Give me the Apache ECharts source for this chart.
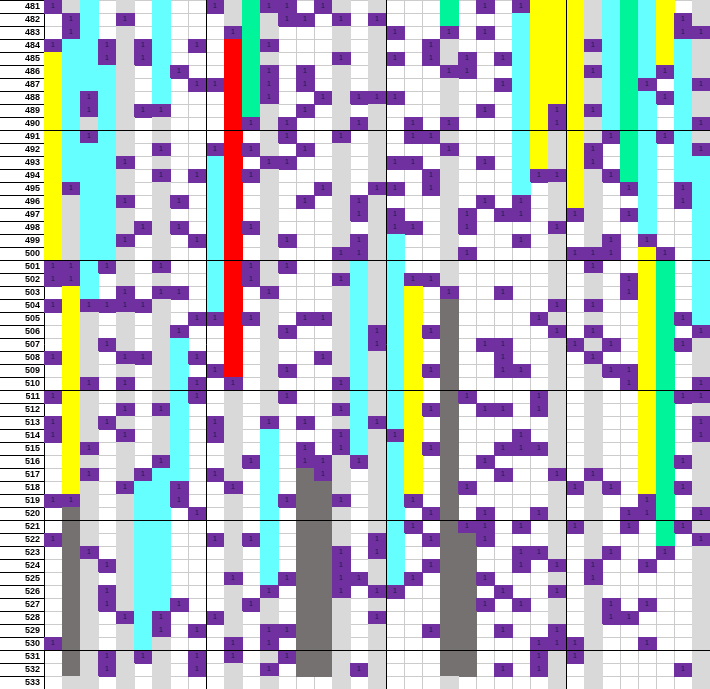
<!DOCTYPE html>
<html><head><meta charset="utf-8">
<script src="https://cdn.jsdelivr.net/npm/echarts@6/dist/echarts.min.js"></script>
<style>html,body{margin:0;padding:0;background:#fff}#chart{width:710px;height:689px}</style>
</head><body><div id="chart"></div>
<script>
const rowLabels = ['481','482','483','484','485','486','487','488','489','490','491','492','493','494','495','496','497','498','499','500','501','502','503','504','505','506','507','508','509','510','511','512','513','514','515','516','517','518','519','520','521','522','523','524','525','526','527','528','529','530','531','532','533'];
const columnIds = ['1','2','3','4','5','6','7','8','9','10','11','12','13','14','15','16','17','18','19','20','21','22','23','24','25','26','27','28','29','30','31','32','33','34','35','36','37'];
const grayColumns = [1,2,4,6,10,12,16,18,22,28,30,36];
const sectionColumnBreaks = [9,19,29];
const rowBreaks = [10,20,30,40,50];
// codes: . empty, P = "1" entry, C cyan, Y yellow, R red, G green, D dark grey
const cellRows = [
"P.C...C..|P.GPP.P...|...G.P.PYY|Y.CGCY..",
".PC.P.C..|..G.PP.P.P|...G...CYY|Y.CGCYP.",
".PC...C..|.PG.......|P..P.P.CYY|Y.CGCYPP",
"PCCP.PC.P|.RGP......|..P....CYY|YPCGCYC.",
"YCCP.PC..|.RG....P..|P.P.P.PCYY|Y.CGCYC.",
"YCCC..CP.|.RGP.P....|...PP..CYY|YPCGCPC.",
"YCCC..C.P|PRGP.P....|......PCYY|Y.CGP.CP",
"YCPC..C..|.RGP..P.PP|P......CYY|Y.CGCPC.",
"YCPC.PP..|.RG..P....|.....P.CYP|YPCGC.C.",
"YC.C.....|.RP.P...P.|.P.P...CYP|Y.CGC.CP",
"YCPC.....|.R..P..P..|.PP....CY.|Y.PGCPC.",
"YCCC..P..|PRP..P....|...P...CY.|YP.GC.CP",
"YCCCP....|CR.PP.....|PP...P.CY.|YP.GC.CC",
"YCCC..P.P|CRP.......|..P....CPP|Y.PGC.CC",
"YPCC.....|CR....P..P|P.P....C..|Y..PC.PC",
"Y.CCP..P.|CR...P..P.|.....P.P..|Y...C.PC",
"Y.CC.....|CR......P.|P...P.PP..|P..PC..C",
"Y.CC.P.P.|CRP.......|PP..P....P|....C..C",
"Y.CCP...P|CR..P...P.|C......P..|..P.P..C",
"Y.CC.....|CR.....PP.|C...P.....|PPP.YP.C",
"PPCP..P..|CRP.P...C.|C.........|.P..YG.C",
"PPC......|CRP....PC.|CPP.......|...PYG.C",
".YC.P.PP.|CR.P....C.|CY.P..P...|...PYG.C",
"PYPPPP...|CR......C.|CY.D.....P|.P..YG.C",
".Y......P|PRP..PP.C.|CY.D....P.|....YGPC",
".Y.....P.|.R..P...CP|CYPD.....P|.P..YG.P",
".Y.P...C.|.R......CP|CY.D.PP...|P.P.YGP.",
"PY..PP.CP|.R....P.C.|CY.D..P...|.P..YG..",
".Y.....C.|PR..P...C.|CYPD..PP..|..PPYG..",
".YP.P..CP|.P.....PC.|CY.D......|...PYG.P",
"PY.....CP|....P...C.|CY.DP...P.|....YGPP",
".Y..P.PC.|.......PC.|CYPD.PP.P.|....YG..",
"PY.P...C.|P..P.P..CP|CY.D......|....YG.P",
"PY..P..C.|P..C...PC.|PY.D...P..|....YG.P",
".YP....C.|...C.P.PC.|CYPD..PPP.|....YG..",
".Y....PC.|..PC.PP.P.|CY.D.P....|....YGP.",
".YP..PCC.|P..C.DP...|CY.D..P..P|.P..YG..",
".Y..PCCP.|.P.C.DD...|CY.DP.....|P.P.YGP.",
"PP...CCP.|...CPDDP..|CP.D......|....PG..",
".D...CC.P|...C.DD...|C.PD.P..P.|...PPG.P",
".D...CC..|...C.DD...|CP.DPP.P..|P..P.GP.",
"PD...CC..|P.PC.DD..P|C.PDDP....|.....G.P",
".DP..CC..|...C.DDP.P|C..DD..PP.|..P..P..",
".D.P.CC..|...C.DDP..|C.PDD..P.P|.P..P...",
".D...CC..|.P.CPDDPP.|CP.DDP....|.P......",
".D.P.CC..|...P.DDP.P|P..DD.P..P|........",
".D.P.CCP.|..P..DD...|...DDP.P..|..P.P...",
".D..PCP..|P....DD..P|...DD.....|..PP....",
".D...CP.P|...PPDD...|..PDD.P..P|........",
"PD...C...|.P.P.DD...|...DD...PP|P...P...",
".D.P.P..P|.P..PDD...|...DD...P.|P.......",
".D.P....P|...P.DD.P.|...DD.P.P.|......P.",
".........|..........|..........|........"
];
const palette = {P:'#7030A0', C:'#66FFFF', Y:'#FFFF00', R:'#FF0000', G:'#00F59B', D:'#767171', L:'#D9D9D9'};

const cells = [];
cellRows.forEach(function (s, r) {
  const codes = s.replace(/\|/g, '');
  for (let c = 0; c < codes.length; c++) {
    let k = codes[c];
    if (k === '.') {
      if (grayColumns.indexOf(c) >= 0) k = 'L'; else continue;
    }
    cells.push([c, r, k]);
  }
});

function cellBox(api, c, r) {
  const p = api.coord([c, r]);
  const s = api.size([1, 1]);
  return {x: Math.round(p[0] - s[0] / 2), y: Math.round(p[1] - s[1] / 2), w: Math.round(s[0]), h: Math.round(s[1])};
}

function renderCell(params, api) {
  const item = cells[params.dataIndex];
  const b = cellBox(api, item[0], item[1]);
  const rect = {type: 'rect', shape: {x: b.x, y: b.y, width: b.w + 1, height: b.h + 1}, style: {fill: palette[item[2]]}};
  if (item[2] === 'P') {
    return {type: 'group', children: [rect, {type: 'text', style: {text: '1', x: b.x + b.w / 2, y: b.y + b.h / 2, align: 'center', verticalAlign: 'middle', fontSize: 7, fontFamily: 'Liberation Sans, Arial, sans-serif', fill: '#1c1c3c'}}]};
  }
  return rect;
}

function renderRowBreak(params, api) {
  const r = api.value(1);
  const b = cellBox(api, 0, r);
  const cs = params.coordSys;
  const y = b.y + 0.5;
  return {type: 'line', shape: {x1: cs.x, y1: y, x2: cs.x + cs.width, y2: y}, style: {stroke: '#000', lineWidth: 1}, z2: 10};
}
function renderColBreak(params, api) {
  const c = api.value(0);
  const b = cellBox(api, c, 0);
  const cs = params.coordSys;
  const x = b.x + 0.5;
  return {type: 'line', shape: {x1: x, y1: cs.y, x2: x, y2: cs.y + cs.height}, style: {stroke: '#000', lineWidth: 1}, z2: 10};
}

const chart = echarts.init(document.getElementById('chart'), null, {renderer: 'canvas'});
chart.setOption({
  animation: false,
  backgroundColor: '#ffffff',
  grid: {left: 44, right: 0, top: 0, bottom: 0},
  xAxis: {
    type: 'category', data: columnIds, position: 'top',
    axisLine: {show: false}, axisTick: {show: false}, axisLabel: {show: false},
    splitLine: {show: true, interval: 0, lineStyle: {color: '#cccccc', width: 1}}
  },
  yAxis: {
    type: 'category', data: rowLabels, inverse: true,
    axisLine: {show: true, lineStyle: {color: '#000', width: 1}},
    axisTick: {show: true, interval: 0, length: 44, lineStyle: {color: '#000', width: 1}},
    axisLabel: {interval: 0, fontSize: 9, fontWeight: 'bold', color: '#000', margin: 4, fontFamily: 'Liberation Sans, Arial, sans-serif'},
    splitLine: {show: true, interval: 0, lineStyle: {color: '#cccccc', width: 1}}
  },
  series: [
    {type: 'custom', name: 'cells', data: cells, encode: {x: 0, y: 1}, renderItem: renderCell, z: 2},
    {type: 'custom', name: 'rowBreaks', data: rowBreaks.map(function (r) { return [0, r]; }), encode: {x: 0, y: 1}, renderItem: renderRowBreak, z: 5},
    {type: 'custom', name: 'colBreaks', data: sectionColumnBreaks.map(function (c) { return [c, 0]; }), encode: {x: 0, y: 1}, renderItem: renderColBreak, z: 5}
  ]
});
</script>
</body></html>
